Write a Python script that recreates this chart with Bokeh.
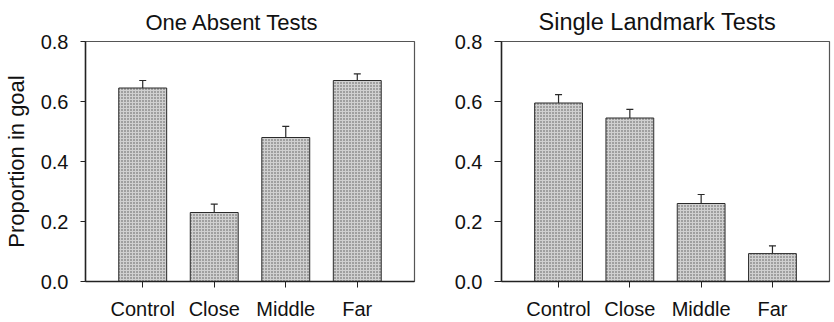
from bokeh.plotting import figure
from bokeh.models import (FactorRange, Range1d, FixedTicker, PrintfTickFormatter,
                          ColumnDataSource, Whisker, TeeHead)
from bokeh.layouts import row
from bokeh.embed import file_html
from bokeh.resources import INLINE

categories = ["Control", "Close", "Middle", "Far"]
left_title = "One Absent Tests"
right_title = "Single Landmark Tests"
left_means = [0.645, 0.23, 0.48, 0.67]
left_sem = [0.025, 0.028, 0.037, 0.022]
right_means = [0.595, 0.545, 0.26, 0.093]
right_sem = [0.028, 0.029, 0.030, 0.026]
y_ticks = [0.0, 0.2, 0.4, 0.6, 0.8]
y_label = "Proportion in goal"

FONT = "Liberation Sans"


def make_panel(title, title_size, title_offset, means, sems, width, border_left, border_right,
               tick_out, ylabel=None):
    p = figure(
        x_range=FactorRange(factors=categories, range_padding=0.3, range_padding_units="absolute"),
        y_range=Range1d(0, 0.8),
        width=width, height=322,
        min_border_left=border_left, min_border_right=border_right,
        min_border_top=41, min_border_bottom=41,
        output_backend="svg", toolbar_location=None,
    )
    p.title.text = title
    p.title.text_font = FONT
    p.title.text_font_size = title_size
    p.title.text_font_style = "normal"
    p.title.text_color = "#111111"
    p.title.align = "left"
    p.title.offset = title_offset
    p.title.standoff = 13

    p.xgrid.visible = False
    p.ygrid.visible = False
    p.outline_line_color = "#555555"
    p.outline_line_width = 1.2
    p.background_fill_color = "white"
    p.border_fill_color = "white"

    src = ColumnDataSource(dict(
        x=categories, top=means,
        lower=means, upper=[m + s for m, s in zip(means, sems)],
    ))
    p.vbar(x="x", top="top", width=0.67, source=src,
           fill_color="#d0d0d0", line_color="#2a2a2a", line_width=1,
           hatch_pattern="dot", hatch_color="#555555", hatch_scale=3, hatch_weight=1)
    w = Whisker(base="x", lower="lower", upper="upper", dimension="height", source=src,
                line_color="#2a2a2a", line_width=1.2,
                lower_head=None,
                upper_head=TeeHead(size=7, line_color="#2a2a2a", line_width=1.2))
    p.add_layout(w)

    p.yaxis.ticker = FixedTicker(ticks=y_ticks)
    p.yaxis.formatter = PrintfTickFormatter(format="%.1f")
    p.yaxis.minor_tick_line_color = None
    p.yaxis.major_tick_in = 0
    p.yaxis.major_tick_out = tick_out
    p.yaxis.major_label_standoff = 12
    p.yaxis.major_label_text_font = FONT
    p.yaxis.major_label_text_font_size = "20px"
    p.yaxis.major_label_text_color = "#111111"
    p.yaxis.axis_line_color = "#222222"
    p.yaxis.axis_line_width = 1.5
    p.yaxis.major_tick_line_color = "#222222"
    if ylabel:
        p.yaxis.axis_label = ylabel
        p.yaxis.axis_label_text_font = FONT
        p.yaxis.axis_label_text_font_size = "22px"
        p.yaxis.axis_label_text_font_style = "normal"
        p.yaxis.axis_label_text_color = "#111111"
        p.yaxis.axis_label_standoff = 9

    p.xaxis.major_tick_in = 0
    p.xaxis.major_tick_out = 6
    p.xaxis.major_label_standoff = 10
    p.xaxis.major_label_text_font = FONT
    p.xaxis.major_label_text_font_size = "20px"
    p.xaxis.major_label_text_color = "#111111"
    p.xaxis.axis_line_color = "#222222"
    p.xaxis.axis_line_width = 1.5
    p.xaxis.major_tick_line_color = "#222222"
    p.xaxis.minor_tick_line_color = None
    return p


p1 = make_panel(left_title, "22px", 60, left_means, left_sem, 419, 85, 5, 5, ylabel=y_label)
p2 = make_panel(right_title, "23.5px", 37, right_means, right_sem, 415, 82, 5, 7)

layout = row(p1, p2)
open("out.html", "w").write(file_html(layout, INLINE))
